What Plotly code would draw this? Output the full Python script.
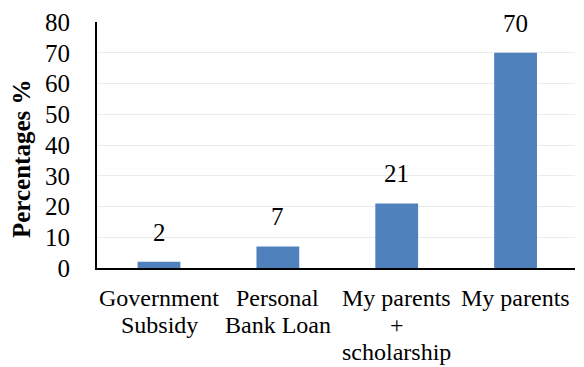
import plotly.graph_objects as go

# Funding sources and their share of respondents (%)
categories = ["Government Subsidy", "Personal Bank Loan", "My parents + scholarship", "My parents"]
category_lines = [["Government", "Subsidy"], ["Personal", "Bank Loan"], ["My parents", "+", "scholarship"], ["My parents"]]
percentages = [2, 7, 21, 70]
y_ticks = [0, 10, 20, 30, 40, 50, 60, 70, 80]
y_title = "Percentages %"

FONT = "Liberation Serif, Times New Roman, serif"
BAR_COLOR = "#4F81BD"

fig = go.Figure(
    go.Bar(
        x=categories,
        y=percentages,
        marker=dict(color=BAR_COLOR, line=dict(width=0)),
        width=0.36,
    )
)

# Value labels above each bar
for cat, val in zip(categories, percentages):
    fig.add_annotation(
        x=cat, y=val, text=str(val), showarrow=False,
        yanchor="bottom", yshift=14,
        font=dict(family=FONT, size=25, color="black"),
    )

# Category labels, one line at a time for tight line spacing
LINE_STEP = 27
for cat, lines in zip(categories, category_lines):
    for i, line in enumerate(lines):
        fig.add_annotation(
            x=cat, y=0, text=line, showarrow=False,
            yanchor="top", yshift=-(15 + LINE_STEP * i),
            font=dict(family=FONT, size=24, color="black"),
        )

# Rotated y-axis title
fig.add_annotation(
    xref="paper", yref="paper", x=0, y=0.5,
    xanchor="center", yanchor="middle", xshift=-76, yshift=-14,
    text=f"<b>{y_title}</b>", textangle=-90, showarrow=False,
    font=dict(family=FONT, size=25, color="black"),
)

fig.update_layout(
    width=584, height=367,
    margin=dict(l=97, r=9, t=18, b=99),
    paper_bgcolor="white", plot_bgcolor="white",
    showlegend=False,
    font=dict(family=FONT, size=24, color="black"),
)

fig.update_xaxes(
    showline=True, linecolor="black", linewidth=2,
    showgrid=False, ticks="", showticklabels=False,
)
fig.update_yaxes(
    range=[0, 80], tickvals=y_ticks,
    showline=True, linecolor="black", linewidth=2,
    showgrid=True, gridcolor="#ebebeb", gridwidth=1,
    zeroline=False, ticks="",
    tickfont=dict(family=FONT, size=25, color="black"),
    ticklabelstandoff=20,
)

fig.write_html("out.html")
